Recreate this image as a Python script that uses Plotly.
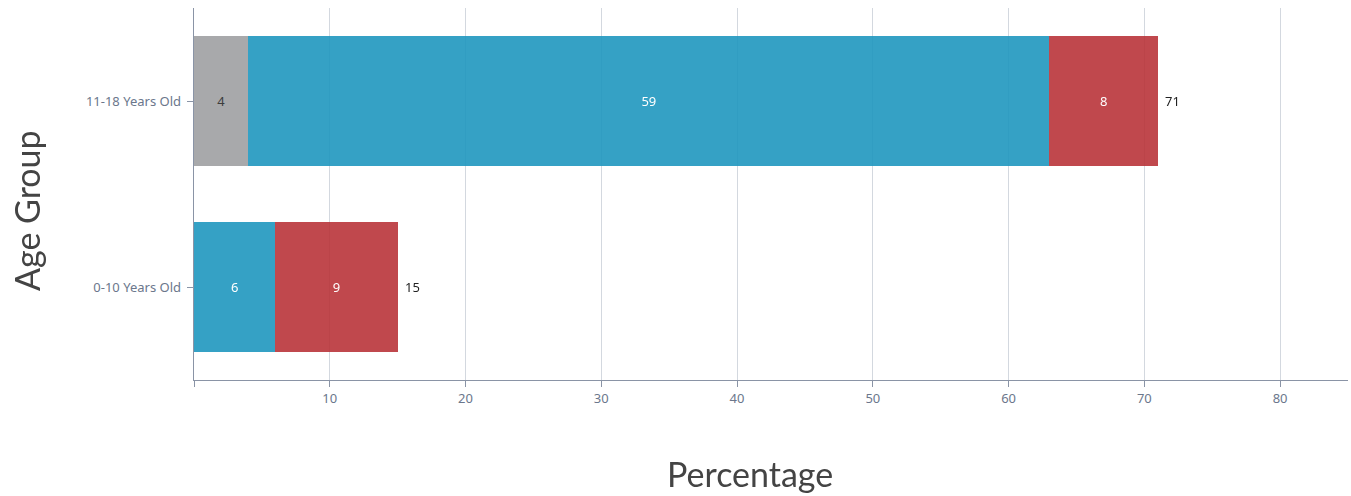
import plotly.graph_objects as go

categories = ["0-10 Years Old", "11-18 Years Old"]
gray_vals = [0, 4]
blue_vals = [6, 59]
red_vals = [9, 8]
totals = [15, 71]
x_ticks = [0, 10, 20, 30, 40, 50, 60, 70, 80]
x_ticktext = ["", "10", "20", "30", "40", "50", "60", "70", "80"]

tick_font = dict(family="Source Sans Pro, Noto Sans, sans-serif", size=13, color="#6b778c")

fig = go.Figure()

def txt(vals):
    return [str(v) if v else "" for v in vals]

fig.add_trace(go.Bar(y=categories, x=gray_vals, orientation="h", marker=dict(color="#a4a5a7", line=dict(width=0)),
                     opacity=0.95, text=txt(gray_vals), textposition="inside", insidetextanchor="middle",
                     textfont=dict(color="#333333", size=13, family="Noto Sans"), name="Gray"))
fig.add_trace(go.Bar(y=categories, x=blue_vals, orientation="h", marker=dict(color="#1f97bf", line=dict(width=0)),
                     opacity=0.9, text=txt(blue_vals), textposition="inside", insidetextanchor="middle",
                     textfont=dict(color="#ffffff", size=13, family="Noto Sans"), name="Blue"))
fig.add_trace(go.Bar(y=categories, x=red_vals, orientation="h", marker=dict(color="#b82f35", line=dict(width=0)),
                     opacity=0.88, text=txt(red_vals), textposition="inside", insidetextanchor="middle",
                     textfont=dict(color="#ffffff", size=13, family="Noto Sans"), name="Red"))

for cat, tot in zip(categories, totals):
    fig.add_annotation(x=tot, y=cat, xref="x", yref="y", text=str(tot), showarrow=False,
                       xanchor="left", xshift=5, font=dict(color="#222222", size=13, family="Noto Sans"))

pw = 1351 - 194 - 3
ph = 496 - 8 - 116
title_font = dict(family="Lato, sans-serif", size=34, color="#444444")
fig.add_annotation(text="Percentage", showarrow=False, font=title_font,
                   xref="paper", yref="paper", x=(750 - 194) / pw, y=-(473 - 380) / ph,
                   xanchor="center", yanchor="middle")
fig.add_annotation(text="Age Group", showarrow=False, font=title_font, textangle=-90,
                   xref="paper", yref="paper", x=(27 - 194) / pw, y=(380 - 211) / ph,
                   xanchor="center", yanchor="middle")

fig.update_layout(
    barmode="stack",
    bargap=0.3,
    width=1351, height=496,
    margin=dict(l=194, r=3, t=8, b=116),
    paper_bgcolor="white", plot_bgcolor="white",
    showlegend=False,
    xaxis=dict(range=[0, 85], tickvals=x_ticks, ticktext=x_ticktext, showgrid=True, gridcolor="#d3d8df",
               gridwidth=1, zeroline=False, showline=True, linecolor="#8a94a6", linewidth=1,
               ticks="outside", ticklen=6, tickcolor="#8a94a6", tickfont=tick_font),
    yaxis=dict(showgrid=False, zeroline=False, showline=True, linecolor="#8a94a6", linewidth=1,
               ticks="outside", ticklen=6, tickcolor="#8a94a6", tickfont=tick_font, ticksuffix=" "),
)

fig.write_html("out.html")
